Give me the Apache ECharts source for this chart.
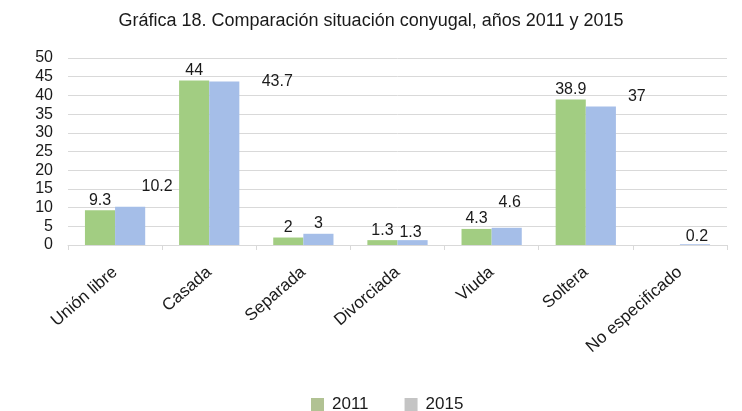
<!DOCTYPE html>
<html>
<head>
<meta charset="utf-8">
<script src="https://cdn.jsdelivr.net/npm/echarts@6/dist/echarts.min.js"></script>
<style>html,body{margin:0;padding:0;background:#fff;}#c{width:742px;height:411px;}</style>
</head>
<body>
<div id="c"></div>
<script>
var titleText = 'Gráfica 18. Comparación situación conyugal, años 2011 y 2015';
var categories = ['Unión libre', 'Casada', 'Separada', 'Divorciada', 'Viuda', 'Soltera', 'No especificado'];
var seriesNames = ['2011', '2015'];
var values2011 = [9.3, 44, 2, 1.3, 4.3, 38.9, null];
var values2015 = [10.2, 43.7, 3, 1.3, 4.6, 37, 0.2];
var yTicks = {min: 0, max: 50, interval: 5};

// label offsets (style only) for the 2015 labels, as in the reference
var offsets2015 = [[27, -10], [53, 10], [0, 0], [-2, 2], [3, -15], [36, 0], [2, 2]];

var FONT = 'Liberation Sans, Arial, sans-serif';
var chart = echarts.init(document.getElementById('c'), null, {renderer: 'canvas'});

var data2015 = values2015.map(function (v, i) {
  return {value: v, label: {offset: offsets2015[i]}};
});

chart.setOption({
  animation: false,
  backgroundColor: '#ffffff',
  title: {
    text: titleText,
    left: 'center',
    top: 7,
    textStyle: {fontFamily: FONT, fontSize: 18, fontWeight: 'normal', color: '#1a1a1a'}
  },
  legend: {
    left: 306,
    top: 391,
    itemWidth: 13,
    itemHeight: 13,
    itemGap: 36,
    icon: 'rect',
    textStyle: {fontFamily: FONT, fontSize: 17, color: '#1a1a1a', padding: [0, 0, 0, 3]},
    data: [
      {name: seriesNames[0], itemStyle: {color: '#b1c293'}},
      {name: seriesNames[1], itemStyle: {color: '#c4c4c4'}}
    ]
  },
  grid: {left: 68, right: 15, top: 58, bottom: 166, containLabel: false},
  xAxis: {
    type: 'category',
    data: categories,
    axisLine: {show: true, lineStyle: {color: '#d9d9d9'}},
    axisTick: {show: true, length: 5, lineStyle: {color: '#d9d9d9'}},
    axisLabel: {rotate: 41, margin: 25, interval: 0, fontFamily: FONT, fontSize: 17, color: '#1a1a1a'}
  },
  yAxis: {
    type: 'value',
    min: yTicks.min,
    max: yTicks.max,
    interval: yTicks.interval,
    axisLine: {show: false},
    axisTick: {show: false},
    splitLine: {show: true, lineStyle: {color: '#d9d9d9', width: 1}},
    axisLabel: {margin: 15, fontFamily: FONT, fontSize: 16, color: '#1a1a1a'}
  },
  series: [
    {
      name: seriesNames[0],
      type: 'bar',
      data: values2011,
      barGap: '0%',
      barCategoryGap: '36%',
      itemStyle: {color: '#a2cd82'},
      label: {show: true, position: 'top', distance: 2, fontFamily: FONT, fontSize: 16, color: '#1a1a1a'}
    },
    {
      name: seriesNames[1],
      type: 'bar',
      data: data2015,
      barGap: '0%',
      barCategoryGap: '36%',
      itemStyle: {color: '#a5bee8'},
      label: {show: true, position: 'top', distance: 2, fontFamily: FONT, fontSize: 16, color: '#1a1a1a'}
    }
  ]
});
</script>
</body>
</html>
